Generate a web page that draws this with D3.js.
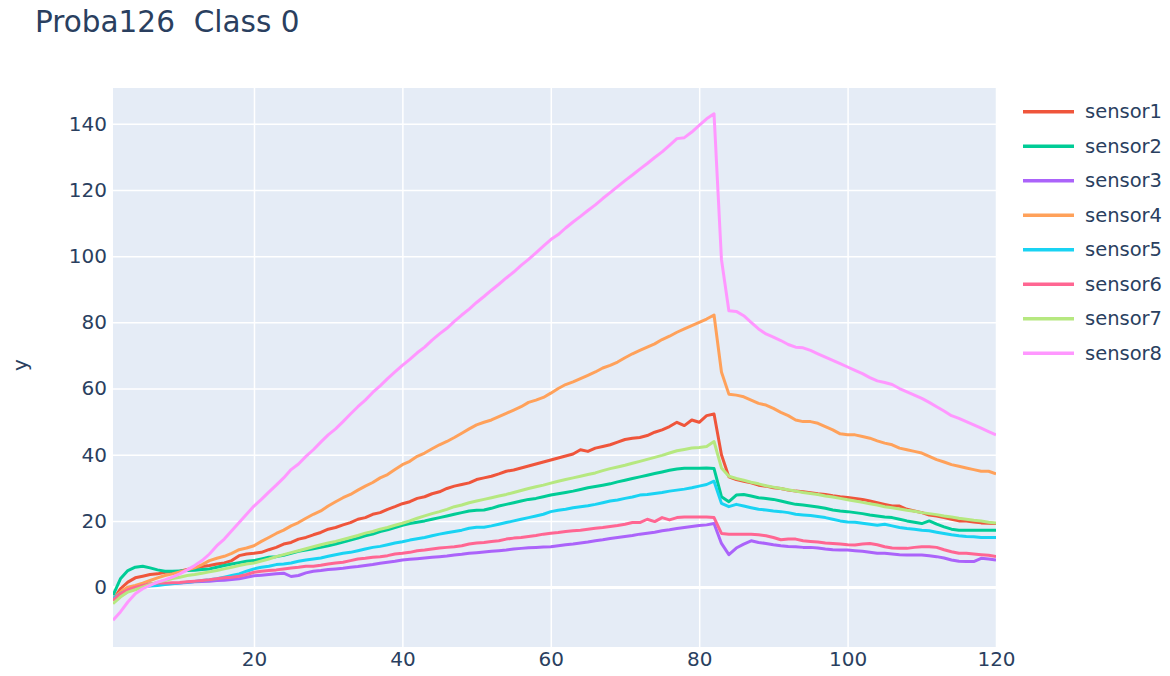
<!DOCTYPE html>
<html>
<head>
<meta charset="utf-8">
<script src="https://cdn.jsdelivr.net/npm/d3@7"></script>
<style>
  html, body { margin: 0; padding: 0; background: #fff; }
  svg { display: block; font-family: "DejaVu Sans", Verdana, sans-serif; }
</style>
</head>
<body>
<svg id="chart" width="1170" height="676"></svg>
<script>
const title = "Proba126\u00a0\u00a0Class 0";
const yAxisTitle = "y";
const xValues = d3.range(1, 121);
const xTicks = [20, 40, 60, 80, 100, 120];
const yTicks = [0, 20, 40, 60, 80, 100, 120, 140];
const seriesNames = ["sensor1","sensor2","sensor3","sensor4","sensor5","sensor6","sensor7","sensor8"];
const seriesColors = ["#EF553B","#00CC96","#AB63FA","#FFA15A","#19D3F3","#FF6692","#B6E880","#FF97FF"];

const sensor1 = [-4,-0.5,1.5,2.8,3.3,3.8,4,4.5,4.6,4.8,5.3,5.8,6.2,6.5,7,7.3,8,9.5,10,10.2,
10.5,11.3,12,13,13.5,14.5,15,15.8,16.5,17.5,18,18.8,19.5,20.5,21,22,22.5,23.5,24.3,25.2,
25.8,26.8,27.3,28.2,28.8,29.8,30.5,31,31.5,32.5,33,33.5,34.2,35,35.4,36,36.6,37.2,37.8,38.4,
39,39.6,40.2,41.5,41,42,42.5,43,43.8,44.6,45,45.2,45.8,46.8,47.5,48.5,49.8,48.8,50.5,49.8,51.8,52.3,
40,33.3,32.5,32,31.5,30.8,30.5,30,29.8,29.3,29,28.8,28.5,28.2,28,27.6,27.3,27.1,
26.8,26.5,26,25.5,25,24.5,24.5,23.5,23,22.5,21.8,21.5,21,20.5,20,20,19.7,19.4,19.3,19.2];

const sensor2 = [-2.5,2.5,5,6,6.3,5.8,5.2,4.8,4.8,4.9,5,5.1,5.3,5.5,6,6.5,7,7.4,7.8,8,
8.5,9,9.2,9.6,10.2,10.8,11.2,11.6,12,12.5,13,13.6,14.2,14.8,15.5,16,16.8,17.3,18,18.7,
19.2,19.6,20,20.5,21,21.5,22,22.5,23,23.2,23.3,23.8,24.5,25,25.5,26,26.5,26.8,27.3,27.8,
28.2,28.6,29,29.5,30,30.4,30.8,31.2,31.8,32.3,32.8,33.3,33.8,34.3,34.8,35.3,35.7,35.9,35.9,35.9,36,35.8,
27.3,25.8,27.8,28,27.5,27,26.8,26.5,26,25.5,25,24.8,24.5,24.2,23.8,23.3,23,22.8,
22.5,22.2,21.8,21.5,21.2,21,20.5,20,19.6,19.2,20,19,18.2,17.5,17.2,17.2,17.2,17.2,17.2,17.2];

const sensor3 = [-3.5,-1.8,-0.5,0,0.4,0.7,0.9,1,1.1,1.2,1.4,1.6,1.7,1.8,2,2.1,2.3,2.5,3,3.4,
3.6,3.8,4,4.2,3.2,3.5,4.3,4.8,5,5.3,5.5,5.7,6,6.2,6.5,6.8,7.2,7.5,7.8,8.2,
8.4,8.6,8.8,9,9.2,9.4,9.7,9.9,10.2,10.4,10.6,10.8,11,11.2,11.5,11.7,11.9,12,12.1,12.2,
12.5,12.8,13,13.3,13.6,14,14.3,14.7,15,15.3,15.6,16,16.3,16.6,17,17.3,17.7,18,18.3,18.6,18.8,19.2,
13.2,9.8,11.8,13,14,13.5,13.2,12.8,12.5,12.3,12.2,12,12,11.8,11.5,11.3,11.2,11.2,
11,10.8,10.5,10.2,10.2,10,9.8,9.7,9.7,9.7,9.5,9.2,8.8,8.2,7.8,7.7,7.7,8.7,8.5,8.2];

const sensor4 = [-3.5,-1.5,0,0.5,1.2,2,2.8,3.5,4,4.6,5.2,5.8,6.8,8,8.7,9.3,10.2,11.3,11.8,12.5,
13.8,15,16.2,17.2,18.5,19.5,20.8,22,23,24.5,25.8,27,28,29.3,30.5,31.6,33,34,35.5,37,
38,39.5,40.5,41.8,43,44,45.2,46.5,47.8,49,49.8,50.5,51.5,52.5,53.5,54.5,55.8,56.5,57.3,58.6,
60,61.2,62,63,64,65,66.2,67,68,69.3,70.5,71.5,72.5,73.5,74.8,75.8,77,78,79,80,81,82.2,
65,58.3,58,57.5,56.5,55.5,55,54,52.8,51.8,50.5,50,50,49.5,48.5,47.5,46.3,46,
46,45.5,45,44.2,43.5,43,42,41.5,41,40.5,39.5,38.5,37.8,37,36.5,36,35.5,35,35,34.2];

const sensor5 = [-3.5,-2,-1,-0.5,0,0.3,0.5,0.8,1,1.2,1.5,1.7,2,2.2,2.5,3,3.5,4,4.8,5.5,
6,6.3,6.8,7,7.3,7.8,8.2,8.5,8.8,9.3,9.8,10.2,10.5,11,11.5,12,12.3,12.8,13.3,13.7,
14.2,14.6,15,15.5,16,16.4,16.8,17.2,17.8,18.1,18.1,18.5,19,19.5,20,20.5,21,21.5,22,22.8,
23.2,23.5,24,24.3,24.6,25,25.5,26,26.3,26.8,27.2,27.8,28,28.3,28.6,29,29.3,29.6,30,30.5,31,32,
25.3,24.3,25,24.5,24,23.5,23.3,23,22.8,22.5,22,21.8,21.6,21.3,21,20.5,20,19.7,
19.6,19.3,19,18.7,19,18.5,18,17.7,17.5,17.2,17,16.6,16.2,15.8,15.5,15.3,15.2,15,15,15];

const sensor6 = [-4,-2,-0.8,0,0.5,1,1.2,1.2,1.3,1.4,1.6,1.8,2,2.2,2.5,2.8,3,3.3,3.8,4.5,
4.8,5,5.2,5.5,5.8,6,6.3,6.3,6.6,7,7.3,7.5,8,8.5,8.7,9,9.2,9.5,10,10.2,
10.5,11,11.2,11.5,11.8,12,12.2,12.5,13,13.3,13.5,13.8,14,14.5,14.8,15,15.3,15.6,16,16.3,
16.5,16.8,17,17.2,17.5,17.8,18,18.3,18.6,19,19.5,19.5,20.5,19.8,21,20.3,21,21.2,21.2,21.2,21.2,21,
16.2,16,16,16,16,15.8,15.5,15,14.3,14.5,14.5,14,13.8,13.6,13.3,13.2,13,12.8,
12.7,13,13.2,12.8,12.2,11.8,11.7,11.7,12,12.2,12.2,12,11.3,10.7,10.2,10.2,10,9.8,9.6,9.2];

const sensor7 = [-5,-3,-1.5,-0.8,0,0.8,1.5,2,2.6,3,3.5,3.8,4.2,4.6,5,5.5,6,6.5,7,7.3,
7.9,8.5,9.2,9.8,10.4,11,11.6,12.2,12.8,13.3,13.8,14.4,15,15.6,16.3,16.8,17.5,18,18.7,19.3,
20,20.8,21.5,22.2,22.8,23.5,24.3,24.8,25.5,26,26.5,27,27.5,28,28.6,29.2,29.8,30.3,30.8,31.4,
32,32.5,33,33.5,34,34.5,35.2,35.8,36.3,36.8,37.4,38,38.6,39.2,39.8,40.5,41.2,41.6,42,42.2,42.5,44,
36,33.5,32.8,32.3,31.7,31.2,30.6,30.2,29.8,29.4,29,28.6,28.3,28,27.5,27.2,26.8,26.4,
26,25.6,25.2,24.8,24.3,24,23.6,23.2,22.9,22.5,22.2,21.9,21.5,21.2,20.8,20.5,20.2,20,19.6,19.4];

const sensor8 = [-10,-7.5,-4.5,-2,-0.5,0.5,1.5,2.2,3,4,5.2,6.5,8,10,12.5,14.5,17,19.5,22,24.5,
26.5,28.7,30.8,33,35.5,37.2,39.5,41.5,43.8,46,47.8,50,52.3,54.5,56.5,58.8,60.8,63,65,67,
68.8,70.8,72.5,74.6,76.5,78.2,80.3,82.2,84,86,87.8,89.7,91.5,93.4,95.2,97.2,99,101,103,105,
106.5,108.5,110.3,112,113.8,115.5,117.4,119.2,121,122.8,124.5,126.3,128,129.8,131.5,133.5,135.5,135.8,137.5,139.5,141.5,143,
99,83.5,83.3,82,80,78,76.5,75.5,74.5,73.3,72.5,72.3,71.5,70.5,69.5,68.5,67.5,66.5,
65.5,64.5,63.3,62.3,61.8,61.2,60,59,58,57,55.8,54.5,53.2,51.8,51,50,49,48,47,46];

const seriesValues = [sensor1, sensor2, sensor3, sensor4, sensor5, sensor6, sensor7, sensor8];

const svg = d3.select("#chart");
const W = 1170, H = 676;
const plot = { left: 113, right: 996, top: 88, bottom: 647 };

svg.append("rect").attr("width", W).attr("height", H).attr("fill", "#ffffff");

const x = d3.scaleLinear().domain([1, 120]).range([plot.left, plot.right]);
const y = d3.scaleLinear().domain([-18.1, 150.8]).range([plot.bottom, plot.top]);

svg.append("rect")
  .attr("x", plot.left).attr("y", plot.top)
  .attr("width", plot.right - plot.left).attr("height", plot.bottom - plot.top)
  .attr("fill", "#E5ECF6");

// grid
const gx = svg.append("g").attr("transform", `translate(0,${plot.bottom})`)
  .call(d3.axisBottom(x).tickValues(xTicks).tickSize(-(plot.bottom - plot.top)).tickFormat(""));
gx.select(".domain").remove();
gx.selectAll(".tick line").attr("stroke", "#ffffff").attr("stroke-width", 1.5);

const gy = svg.append("g").attr("transform", `translate(${plot.left},0)`)
  .call(d3.axisLeft(y).tickValues(yTicks).tickSize(-(plot.right - plot.left)).tickFormat(""));
gy.select(".domain").remove();
gy.selectAll(".tick line").attr("stroke", "#ffffff")
  .attr("stroke-width", d => d === 0 ? 3 : 1.5);

// axis labels
const xl = svg.append("g").attr("transform", `translate(0,${plot.bottom})`)
  .call(d3.axisBottom(x).tickValues(xTicks).tickSize(0).tickPadding(5));
xl.select(".domain").remove();
xl.selectAll("text").attr("font-family", "DejaVu Sans, Verdana, sans-serif")
  .attr("font-size", 20).attr("fill", "#2a3f5f");

const yl = svg.append("g").attr("transform", `translate(${plot.left},0)`)
  .call(d3.axisLeft(y).tickValues(yTicks).tickSize(0).tickPadding(6));
yl.select(".domain").remove();
yl.selectAll("text").attr("font-family", "DejaVu Sans, Verdana, sans-serif")
  .attr("font-size", 20).attr("fill", "#2a3f5f");

svg.append("text")
  .attr("transform", `translate(20,365) rotate(-90)`)
  .attr("text-anchor", "middle").attr("dominant-baseline", "central")
  .attr("font-size", 20).attr("fill", "#2a3f5f").text(yAxisTitle);

// lines
const clipId = "plotclip";
svg.append("clipPath").attr("id", clipId).append("rect")
  .attr("x", plot.left).attr("y", plot.top)
  .attr("width", plot.right - plot.left).attr("height", plot.bottom - plot.top);

const line = d3.line().x((d, i) => x(xValues[i])).y(d => y(d));
const lg = svg.append("g").attr("clip-path", `url(#${clipId})`);
seriesValues.forEach((vals, k) => {
  lg.append("path").datum(vals)
    .attr("d", line)
    .attr("fill", "none")
    .attr("stroke", seriesColors[k])
    .attr("stroke-width", 3)
    .attr("stroke-linejoin", "round");
});

// title
svg.append("text").attr("x", 35).attr("y", 32)
  .attr("font-size", 29.5).attr("fill", "#2a3f5f").text(title);

// legend
const legend = svg.append("g");
seriesNames.forEach((name, k) => {
  const yy = 111.7 + k * 34.5;
  legend.append("line").attr("x1", 1023).attr("x2", 1074).attr("y1", yy).attr("y2", yy)
    .attr("stroke", seriesColors[k]).attr("stroke-width", 3.5);
  legend.append("text").attr("x", 1085).attr("y", yy).attr("dominant-baseline", "central")
    .attr("font-size", 19.5).attr("fill", "#2a3f5f").text(name);
});
</script>
</body>
</html>
